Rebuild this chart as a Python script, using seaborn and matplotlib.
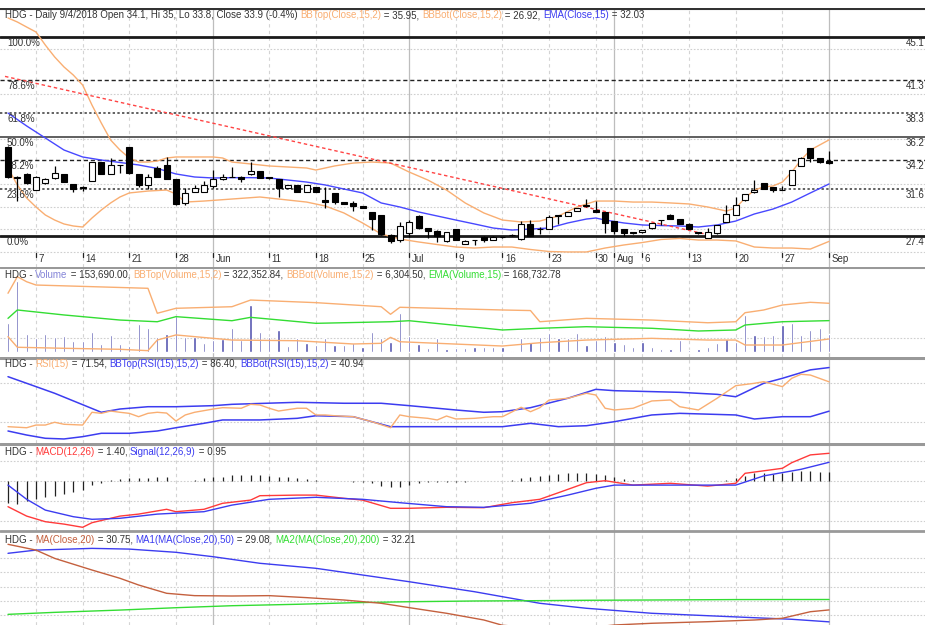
import numpy as np
import matplotlib
matplotlib.use("Agg")
import matplotlib.pyplot as plt
import seaborn as sns
from matplotlib.transforms import blended_transform_factory

# ---------------- data ----------------
open_ = [35.34, 32.6, 32.89, 31.49, 32.09, 32.53, 32.9, 32.03, 31.79, 32.29,
         33.96, 32.92, 33.72, 35.29, 32.89, 31.94, 33.42, 33.72, 32.44, 30.36,
         31.34, 31.34, 31.88, 32.44, 32.64, 32.68, 32.89, 33.18, 32.62, 32.44,
         31.7, 31.94, 31.34, 31.79, 30.6, 31.2, 30.4, 30.3, 30.07, 29.51,
         29.27, 27.49, 27.04, 27.64, 29.18, 28.09, 27.87, 26.96, 28.02, 26.69,
         27.0, 27.34, 27.04, 27.3, 27.45, 27.1, 28.44, 28.0, 28.02, 29.2,
         29.21, 29.65, 30.04, 29.69, 29.51, 28.73, 27.99, 27.79, 27.73, 28.08,
         28.82, 29.27, 28.88, 28.5, 27.79, 27.25, 27.64, 28.67, 29.27, 30.58,
         31.29, 32.09, 31.79, 31.49, 31.94, 33.66, 35.2, 34.31, 34.1]
high = [35.4, 32.7, 33.0, 32.76, 32.6, 33.63, 32.92, 32.05, 31.85, 34.0,
        34.0, 34.31, 33.75, 35.3, 32.9, 32.9, 33.6, 34.45, 32.44, 31.7,
        31.9, 32.3, 33.27, 32.9, 33.57, 32.7, 34.0, 33.2, 32.65, 32.45,
        31.95, 31.96, 31.96, 31.8, 31.8, 31.2, 30.42, 30.5, 30.1, 29.55,
        29.3, 27.6, 28.67, 28.8, 29.3, 28.1, 27.9, 27.8, 28.05, 27.0,
        27.02, 27.36, 27.36, 27.35, 27.6, 28.73, 28.8, 28.2, 29.3, 29.25,
        29.55, 29.9, 30.69, 30.5, 29.55, 28.75, 28.0, 27.8, 27.95, 28.6,
        28.84, 29.4, 28.9, 28.52, 27.8, 28.08, 28.4, 30.16, 30.9, 31.15,
        32.38, 32.12, 31.8, 31.88, 33.3, 34.4, 35.25, 34.35, 35.0]
low = [32.6, 30.5, 32.05, 31.45, 32.05, 32.5, 32.2, 31.34, 31.4, 32.25,
       32.9, 32.9, 33.03, 32.95, 31.8, 31.6, 32.66, 32.45, 30.2, 30.2,
       31.3, 31.3, 31.7, 32.4, 32.64, 32.2, 32.85, 32.55, 32.5, 30.9,
       31.65, 31.3, 31.3, 31.3, 29.9, 30.22, 30.25, 29.6, 29.9, 27.93,
       27.5, 26.75, 26.84, 27.34, 28.05, 27.2, 26.9, 26.9, 27.0, 26.65,
       26.6, 26.9, 27.0, 27.25, 27.4, 27.0, 27.4, 27.6, 28.0, 28.45,
       29.2, 29.6, 30.0, 29.55, 27.64, 27.55, 27.4, 27.6, 27.7, 28.05,
       28.4, 28.9, 28.48, 28.0, 27.6, 27.2, 27.6, 28.65, 29.25, 30.55,
       31.25, 31.55, 31.35, 31.47, 31.9, 33.6, 34.0, 33.9, 33.8]
close = [32.68, 32.65, 32.09, 32.62, 32.44, 32.98, 32.23, 31.58, 31.64, 33.96,
         32.92, 33.72, 33.74, 32.98, 31.94, 32.68, 32.68, 32.47, 30.22, 31.2,
         31.7, 31.94, 32.47, 32.68, 32.66, 32.44, 33.18, 32.59, 32.58, 31.7,
         31.9, 31.34, 31.94, 31.34, 30.4, 30.45, 30.27, 30.07, 29.92, 28.89,
         27.55, 26.96, 28.32, 28.67, 28.09, 27.87, 27.43, 27.78, 27.04, 26.98,
         27.0, 27.04, 27.34, 27.31, 27.5, 28.44, 27.43, 28.02, 29.12, 29.21,
         29.51, 29.86, 30.16, 29.56, 28.53, 27.84, 27.7, 27.66, 27.9, 28.53,
         28.84, 28.91, 28.5, 28.02, 27.64, 27.79, 28.38, 29.33, 30.16, 31.11,
         31.49, 31.58, 31.49, 31.5, 33.27, 34.37, 34.37, 33.96, 33.9]

bbt_idx = [0, 1, 2, 3, 4, 5, 6, 7, 8, 9, 10, 11, 12, 13, 14, 15, 16, 17, 18,
           20, 22, 23, 24, 26, 28, 30, 32, 33, 35, 37, 39, 41, 43, 45, 47, 49,
           51, 53, 55, 57, 59, 61, 63, 65, 67, 69, 71, 73, 75, 77,
           78, 79, 80, 81, 82, 83, 84, 85, 86, 87, 88]
bbt_val = [46.80, 46.44, 45.99, 45.55, 44.39, 43.33, 42.44, 41.72, 40.83, 39.05,
           37.45, 35.94, 35.05, 34.34, 33.98, 33.98, 34.07, 34.34, 34.43,
           34.43, 34.43, 34.34, 33.98, 33.81, 33.63, 33.54, 33.45, 33.27, 33.63,
           33.89, 33.98, 33.89, 33.09, 32.38, 31.49, 30.34, 29.45, 28.82, 28.65,
           28.73, 29.18, 29.98, 30.51, 30.51, 30.42, 30.42, 30.34, 30.25, 29.98,
           29.62, 29.89, 30.78, 31.49, 31.76, 31.85, 32.2, 33.09, 34.16, 35.05,
           35.5, 35.95]
bbb_idx = [0, 1, 2, 3, 4, 5, 6, 7, 8, 9, 10, 11, 12, 13, 15, 17, 18, 19, 21,
           24, 27, 30, 32, 34, 36, 38, 40, 42, 44, 46, 48, 50, 52, 54, 56, 58,
           60, 62, 64, 66, 68, 70, 72, 74, 76, 78, 80, 82, 84, 86, 88]
bbb_val = [33.45, 31.94, 30.78, 29.98, 29.27, 28.82, 28.47, 28.29, 28.2, 29.0,
           29.71, 30.34, 30.87, 31.23, 31.4, 31.49, 31.14, 30.42, 30.51, 30.69,
           30.87, 30.6, 30.42, 30.07, 29.45, 28.56, 27.58, 27.13, 26.87, 26.64,
           26.42, 26.33, 26.42, 26.42, 26.2, 26.02, 25.98, 25.98, 26.33, 26.6,
           26.82, 27.09, 27.18, 27.04, 27.04, 26.96, 26.42, 26.33, 26.33, 26.24,
           26.92]
ema_idx = [0, 2, 4, 6, 8, 10, 12, 14, 16, 18, 20, 22, 24, 26, 28, 30, 32, 34,
           36, 38, 40, 42, 44, 46, 48, 50, 52, 54, 56, 58, 60, 62, 63, 64, 66,
           68, 70, 72, 74, 76, 78, 80, 82, 84, 86, 88]
ema_val = [38.34, 37.19, 36.12, 35.05, 34.43, 34.16, 33.94, 33.72, 33.41, 32.92,
           32.65, 32.56, 32.59, 32.59, 32.56, 32.38, 32.2, 31.94, 31.58, 31.23,
           30.34, 29.98, 29.54, 29.18, 28.82, 28.47, 28.11, 27.93, 28.02, 28.11,
           28.56, 28.91, 29.0, 28.82, 28.56, 28.38, 28.33, 28.29, 28.2, 28.38,
           28.73, 29.36, 29.8, 30.42, 31.23, 32.03]
trend_idx = [-0.32, 74.7]
trend_val = [41.6, 27.58]

fib_low, fib_high = 27.4, 45.1
fib_pct = [1.0, 0.786, 0.618, 0.5, 0.382, 0.236, 0.0]
fib_left = ['100.0%', '78.6%', '61.8%', '50.0%', '38.2%', '23.6%', '0.0%']
fib_right = ['45.1', '41.3', '38.3', '36.2', '34.2', '31.6', '27.4']

volume = [251, 628, 157, 119, 157, 133, 142, 97, 95, 172,
          68, 148, 66, 50, 245, 207, 133, 157, 316, 133,
          127, 80, 104, 110, 207, 104, 413, 177, 133, 192,
          50, 119, 80, 59, 119, 59, 59, 80, 39, 177,
          119, 89, 345, 139, 68, 30, 119, 21, 30, 30,
          39, 39, 39, 39, 9, 119, 89, 127, 168, 119,
          119, 163, 59, 104, 139, 89, 68, 39, 89, 39,
          21, 21, 104, 15, 21, 39, 74, 110, 89, 325,
          148, 139, 148, 236, 257, 148, 192, 212, 153.69]   # thousands
vbt_idx = [0, 1, 2, 3, 15, 16, 18, 24, 26, 33, 40, 41, 42, 53, 56, 57, 62, 69,
           75, 78, 79, 81, 83, 86, 88]
vbt_val = [411, 558, 513, 484, 455, 234, 278, 292, 351, 328, 292, 225, 287, 263,
           258, 159, 189, 174, 150, 159, 239, 263, 307, 331, 322.35]
vema_idx = [0, 1, 6, 12, 16, 18, 24, 26, 33, 41, 43, 53, 57, 62, 69, 74, 78, 79, 83, 88]
vema_val = [189, 263, 219, 174, 159, 204, 168, 198, 145, 159, 168, 86, 101, 115,
            101, 77, 86, 130, 159, 168.73]
vbb_idx = [0, 1, 6, 12, 15, 16, 18, 24, 31, 37, 40, 41, 42, 53, 57, 62, 69, 75,
           78, 79, 83, 88]
vbb_val = [27, -67, -76, -85, -97, -3, 42, -3, -9, -38, -32, 21, -18, -56, -27,
           -3, 12, -3, -3, -47, -47, 6.3]

rsi_idx = [0, 2, 3, 4, 5, 6, 8, 9, 10, 11, 12, 13, 14, 15, 16, 17, 18, 19, 20, 22,
           23, 25, 26, 27, 28, 29, 31, 32, 33, 34, 35, 37, 39, 41, 42, 43, 45, 46,
           47, 48, 50, 52, 53, 55, 56, 57, 58, 60, 62, 63, 64, 65, 67, 69, 71, 72,
           74, 76, 78, 80, 81, 83, 84, 85, 86, 88]
rsi_val = [24.8, 23.7, 26.5, 26.5, 29.4, 27.3, 26.5, 39.8, 38.7, 41.1,
           39.8, 38.7, 35.2, 38.7, 39.8, 39.0, 30.7, 37.0, 39.8, 43.2,
           44.6, 44.0, 48.1, 47.4, 44.0, 41.1, 44.0, 44.0, 37.0, 37.0,
           36.2, 35.2, 30.0, 23.7, 37.0, 35.2, 33.5, 31.8, 35.9, 32.8,
           33.5, 35.2, 35.2, 45.0, 40.4, 44.6, 52.6, 54.4, 59.6, 57.8,
           44.0, 42.2, 44.0, 51.6, 52.6, 45.6, 42.2, 54.4, 67.5, 70.0,
           71.7, 66.5, 75.2, 79.4, 78.6, 71.54]
rbt_idx = [0, 2, 5, 10, 12, 15, 18, 22, 24, 31, 36, 40, 43, 48, 51, 53, 56, 60,
           63, 65, 72, 76, 78, 81, 83, 86, 88]
rbt_val = [76.9, 70.0, 59.6, 39.8, 43.2, 45.6, 45.6, 46.7, 48.1, 50.2, 49.2, 49.2,
           46.7, 42.2, 39.8, 40.4, 44.6, 54.4, 63.7, 62.3, 60.6, 58.5, 56.0, 70.0,
           75.2, 84.0, 86.4]
rbb_idx = [0, 2, 4, 6, 8, 10, 13, 16, 18, 21, 23, 27, 31, 33, 37, 41, 43, 50, 53,
           56, 59, 62, 65, 69, 72, 78, 80, 83, 86, 88]
rbb_val = [20.3, 16.1, 12.7, 12.0, 14.4, 17.9, 17.9, 20.3, 23.7, 28.3, 31.8, 31.8,
           33.5, 36.2, 35.2, 24.8, 24.8, 24.8, 24.8, 28.3, 24.8, 25.8, 30.0, 37.0,
           38.7, 37.0, 32.8, 35.2, 35.2, 40.94]

macd_idx = [0, 2, 4, 6, 8, 9, 12, 14, 17, 18, 21, 23, 26, 27, 31, 33, 36, 38, 41,
            43, 47, 51, 54, 57, 59, 62, 64, 67, 71, 75, 78, 79, 83, 84, 86, 88]
macd_val = [-1.27, -1.74, -2.02, -2.14, -2.3, -2.07, -1.74, -1.64, -1.4, -1.52,
            -1.4, -1.1, -0.94, -0.72, -0.69, -0.69, -0.85, -0.94, -1.35, -1.35,
            -1.3, -1.32, -1.07, -0.9, -0.57, -0.07, 0.03, -0.19, -0.1, -0.24,
            -0.1, 0.4, 0.65, 0.93, 1.32, 1.40]
sig_idx = [0, 2, 4, 7, 9, 12, 16, 21, 24, 28, 33, 38, 42, 47, 51, 56, 60, 63, 65,
           69, 75, 78, 81, 85, 88]
sig_val = [-0.19, -0.9, -1.44, -1.77, -1.9, -1.85, -1.64, -1.52, -1.19, -0.9, -0.8,
           -0.9, -1.07, -1.27, -1.3, -1.1, -0.69, -0.35, -0.19, -0.19, -0.19, -0.19,
           0.27, 0.6, 0.95]
hist = [-1.10, -1.13, -1.0, -0.88, -0.77, -0.72, -0.63, -0.55, -0.43, -0.17,
        -0.07, 0.07, 0.1, 0.17, 0.15, 0.15, 0.2, 0.2, 0.03, 0.03,
        0.07, 0.17, 0.23, 0.23, 0.32, 0.33, 0.32, 0.33, 0.27, 0.23,
        0.2, 0.17, 0.12, 0.08, 0.0, 0.0, 0.0, -0.03, -0.03, -0.1,
        -0.22, -0.27, -0.3, -0.17, -0.1, -0.05, -0.05, -0.03, -0.03, -0.03,
        0.0, 0.0, 0.0, 0.03, 0.07, 0.17, 0.23, 0.28, 0.33, 0.37,
        0.4, 0.42, 0.42, 0.37, 0.32, 0.23, 0.12, 0.07, 0.03, 0.03,
        0.03, 0.03, 0.03, 0.03, 0.03, 0.03, 0.03, 0.07, 0.17, 0.28,
        0.4, 0.42, 0.37, 0.42, 0.45, 0.53, 0.5, 0.45, 0.45]

ma_idx = [0, 3, 5, 9, 12, 14, 17, 20, 24, 28, 32, 36, 40, 43, 47, 51, 53, 57, 61,
          65, 69, 75, 80, 83, 86, 88]
ma_val = [39.94, 39.13, 37.97, 36.34, 35.18, 34.24, 33.08, 32.75, 32.7, 32.75,
          32.47, 32.14, 31.68, 31.07, 30.28, 29.34, 28.6, 28.2, 28.1, 28.64,
          28.88, 29.1, 29.34, 29.58, 30.5, 30.75]
ma1_idx = [0, 3, 9, 13, 18, 22, 27, 33, 38, 43, 50, 53, 57, 62, 69, 75, 80, 84, 88]
ma1_val = [38.68, 39.13, 39.37, 39.27, 38.82, 38.2, 37.28, 36.58, 35.64, 34.7,
           33.3, 32.6, 31.68, 30.98, 30.28, 29.94, 29.66, 29.44, 29.08]
ma2_idx = [0, 5, 12, 18, 24, 31, 37, 43, 50, 56, 62, 69, 75, 78, 88]
ma2_val = [30.13, 30.41, 30.73, 31.06, 31.34, 31.54, 31.76, 31.9, 32.0, 32.04,
           32.1, 32.14, 32.18, 32.2, 32.21]

date_labels = ['7', '14', '21', '28', 'Jun', '11', '18', '25', 'Jul', '9', '16',
               '23', '30', 'Aug', '6', '13', '20', '27', 'Sep']
date_idx = [3, 8, 13, 18, 22, 28, 33, 38, 43, 48, 53, 58, 63, 65, 68, 73, 78, 83, 88]
month_idx = [22, 43, 65, 88]

# ---------------- style ----------------
W, H, DPI = 925, 625, 100
sns.set_theme(style="white")
plt.rcParams['font.family'] = ['Liberation Sans', 'DejaVu Sans']
FS = 7.05
TXT = '#333333'
ORANGE = '#f9ae72'
BLUE = '#3c3cf0'
GREEN = '#33dd33'
RED = '#ff3a3a'
SIENNA = '#c4603e'
VOLC = '#5555b0'

PX0, PXS = 8.0, 9.33          # first candle pixel and pixel spacing
XMIN = (0 - PX0) / PXS
XMAX = (W - PX0) / PXS

fig = plt.figure(figsize=(W / DPI, H / DPI), dpi=DPI)
fig.patch.set_facecolor('white')


def panel(y0, y1, ylim):
    ax = fig.add_axes([0, 1 - y1 / H, 1, (y1 - y0) / H])
    ax.set_xlim(XMIN, XMAX)
    ax.set_ylim(*ylim)
    ax.set_facecolor('none')
    for s in ax.spines.values():
        s.set_visible(False)
    ax.set_xticks([])
    ax.set_yticks([])
    ax.set_xlabel('')
    ax.set_ylabel('')
    for i in date_idx:
        if i in month_idx:
            ax.axvline(i, color='#bdbdbd', lw=0.9, zorder=0)
        else:
            ax.axvline(i, color='#d4d4d4', lw=0.8, ls=(0, (3, 3)), zorder=0)
    return ax


def hgrid(ax, vals):
    for v in vals:
        ax.axhline(v, color='#cfcfcf', lw=0.8, ls=(0, (1.5, 1.5)), zorder=0)


def line(ax, xs, ys, color, lw=1.0, **kw):
    sns.lineplot(x=xs, y=ys, ax=ax, color=color, linewidth=lw, estimator=None,
                 sort=False, legend=False, **kw)
    ax.set_xlabel('')
    ax.set_ylabel('')


# price scale: y_px = 236 - (p - 27.4) * 11.24
def p_at(y):
    return 27.4 + (236 - y) / 11.24


# ---------------- main price panel ----------------
ax = panel(8, 267, (p_at(267), p_at(8)))
hgrid(ax, [26, 28, 30, 32, 36, 40, 44])
fib_styles = [dict(color='#1a1a1a', lw=2.0, ls='-'),
              dict(color='#222222', lw=1.0, ls=(0, (3, 2))),
              dict(color='#555555', lw=1.3, ls=(0, (1.3, 1.3))),
              dict(color='#444444', lw=1.2, ls='-'),
              dict(color='#222222', lw=1.0, ls=(0, (3, 2))),
              dict(color='#555555', lw=1.3, ls=(0, (1.3, 1.3))),
              dict(color='#1a1a1a', lw=2.0, ls='-')]
trans_l = blended_transform_factory(fig.transFigure, ax.transData)
for pct, lab_l, lab_r, st in zip(fib_pct, fib_left, fib_right, fib_styles):
    lvl = fib_low + pct * (fib_high - fib_low)
    ax.axhline(lvl, zorder=1, **st)
    ax.text(7 / W, lvl - 0.1, lab_l, transform=trans_l, fontsize=FS, color=TXT,
            ha='left', va='top')
    ax.text(906 / W, lvl - 0.1, lab_r, transform=trans_l, fontsize=FS, color=TXT,
            ha='left', va='top')

line(ax, bbt_idx, bbt_val, ORANGE, 1.0)
line(ax, bbb_idx, bbb_val, ORANGE, 1.0)
line(ax, ema_idx, ema_val, '#4848ff', 1.0)
ax.plot(trend_idx, trend_val, color='#ff4444', lw=1.0, ls=(0, (2.5, 2)), zorder=2)

idx = np.arange(len(close))
o = np.array(open_)
c = np.array(close)
up = c >= o
ax.vlines(idx, low, high, color='black', lw=0.9, zorder=3)
bottom = np.minimum(o, c)
height = np.maximum(np.abs(c - o), 0.025)
ax.bar(idx[up], height[up], bottom=bottom[up], width=0.64, color='white',
       edgecolor='black', linewidth=0.8, zorder=4)
ax.bar(idx[~up], height[~up], bottom=bottom[~up], width=0.64, color='black',
       edgecolor='black', linewidth=0.8, zorder=4)

ax.axhline(p_at(8.5), color='#333333', lw=1.5)
# date labels inside the bottom of the price panel
lab_tr = blended_transform_factory(ax.transData, fig.transFigure)
for i, lab in zip(date_idx, date_labels):
    ax.plot([i, i], [1 - 253 / H, 1 - 257 / H], transform=lab_tr, color='#222222',
            lw=0.9, clip_on=False)
    ax.text(i + 0.25, 1 - 259 / H, lab, transform=lab_tr, fontsize=FS, color=TXT,
            ha='left', va='center')

# ---------------- volume panel ----------------
VS = 8.852   # thousands per pixel
axv = panel(267, 357, (-(357 - 351.7) * VS, (351.7 - 267) * VS))
axv.axhline(120, color='#cfcfcf', lw=0.8, ls=(0, (1.5, 1.5)), zorder=0)
axv.bar(idx, volume, width=0.24, color=VOLC, zorder=3)
axl = axv.twinx()
axl.set_ylim(-(357 - 339.7) * VS, (339.7 - 267) * VS)
axl.set_xlim(XMIN, XMAX)
for s in axl.spines.values():
    s.set_visible(False)
axl.set_yticks([])
line(axl, vbt_idx, vbt_val, ORANGE, 1.0)
line(axl, vbb_idx, vbb_val, ORANGE, 1.0)
line(axl, vema_idx, vema_val, GREEN, 1.0)
axl.set_yticks([])
axv.axhline(axv.get_ylim()[1], color='#999999', lw=2.2)

# ---------------- RSI panel ----------------
def r_at(y):
    return 70 - (y - 383.3) * 1.042

axr = panel(357, 443, (r_at(443), r_at(357)))
hgrid(axr, [70, 30])
line(axr, rbt_idx, rbt_val, BLUE, 1.1)
line(axr, rbb_idx, rbb_val, BLUE, 1.1)
line(axr, rsi_idx, rsi_val, ORANGE, 1.0)
axr.axhline(r_at(357.5), color='#999999', lw=2.2)

# ---------------- MACD panel ----------------
def m_at(y):
    return (481.3 - y) / 20.0

axm = panel(443, 530, (m_at(530), m_at(443)))
hgrid(axm, [1, 0, -1, -2])
axm.vlines(idx, 0, hist, color='#222222', lw=0.9, zorder=2)
line(axm, macd_idx, macd_val, RED, 1.0)
line(axm, sig_idx, sig_val, BLUE, 1.0)
axm.axhline(m_at(443.5), color='#999999', lw=2.2)

# ---------------- MA panel ----------------
def a_at(y):
    return 32 + (601 - y) / 7.14

axa = panel(530, 625, (a_at(625), a_at(530)))
hgrid(axa, [38, 36, 34, 32, 30])
line(axa, ma1_idx, ma1_val, BLUE, 1.0)
line(axa, ma2_idx, ma2_val, GREEN, 1.0)
line(axa, ma_idx, ma_val, SIENNA, 1.0)
axa.axhline(a_at(530.5), color='#999999', lw=2.0)

# ---------------- headers ----------------
renderer = fig.canvas.get_renderer()


def text_width(s):
    t1 = fig.text(0, 0, s + '|', fontsize=FS)
    t2 = fig.text(0, 0, '|', fontsize=FS)
    w = t1.get_window_extent(renderer).width - t2.get_window_extent(renderer).width
    t1.remove()
    t2.remove()
    return w


def header(y_px, pieces, x_px=5):
    x = x_px
    for s, col in pieces:
        fig.text(x / W, 1 - y_px / H, s, color=col, fontsize=FS, ha='left',
                 va='center')
        x += text_width(s)


header(15, [("HDG - Daily 9/4/2018 Open 34.1, Hi 35, Lo 33.8, Close 33.9 (-0.4%) ", TXT),
            ("BBTop(Close,15,2)", ORANGE), (" = 35.95, ", TXT),
            ("BBBot(Close,15,2)", ORANGE), (" = 26.92, ", TXT),
            ("EMA(Close,15)", BLUE), (" = 32.03", TXT)])
header(275, [("HDG - ", TXT), ("Volume", '#8484d8'), (" = 153,690.00, ", TXT),
             ("BBTop(Volume,15,2)", ORANGE), (" = 322,352.84, ", TXT),
             ("BBBot(Volume,15,2)", ORANGE), (" = 6,304.50, ", TXT),
             ("EMA(Volume,15)", GREEN), (" = 168,732.78", TXT)])
header(364, [("HDG - ", TXT), ("RSI(15)", ORANGE), (" = 71.54, ", TXT),
             ("BBTop(RSI(15),15,2)", BLUE), (" = 86.40, ", TXT),
             ("BBBot(RSI(15),15,2)", BLUE), (" = 40.94", TXT)])
header(452, [("HDG - ", TXT), ("MACD(12,26)", RED), (" = 1.40, ", TXT),
             ("Signal(12,26,9)", BLUE), (" = 0.95", TXT)])
header(540, [("HDG - ", TXT), ("MA(Close,20)", SIENNA), (" = 30.75, ", TXT),
             ("MA1(MA(Close,20),50)", BLUE), (" = 29.08, ", TXT),
             ("MA2(MA(Close,20),200)", GREEN), (" = 32.21", TXT)])

fig.savefig('out.png', dpi=DPI, facecolor='white')
